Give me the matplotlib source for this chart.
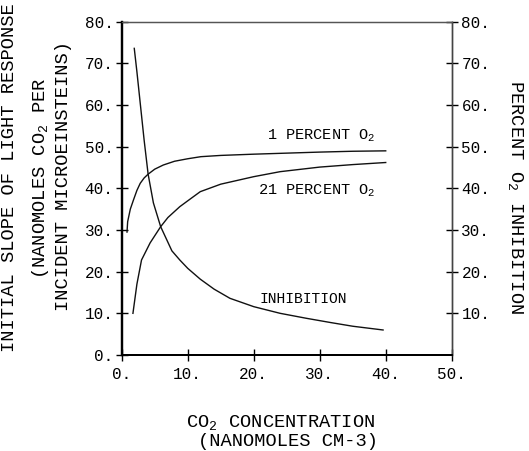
import matplotlib
matplotlib.use("Agg")
import matplotlib.pyplot as plt
import numpy as np

plt.rcParams['font.family'] = ['Liberation Mono', 'DejaVu Sans Mono']
plt.rcParams['mathtext.fontset'] = 'custom'
plt.rcParams['mathtext.rm'] = 'Liberation Mono'
plt.rcParams['mathtext.it'] = 'Liberation Mono'

# 1 percent O2 curve
x_one = [0.8, 0.9, 1.3, 1.8, 2.3, 2.8, 3.4, 4.0, 5.0, 6.3, 8.0, 10, 12, 15, 20, 24, 30, 35, 40]
y_one = [29.5, 32.0, 35.0, 37.3, 39.5, 41.2, 42.5, 43.4, 44.6, 45.6, 46.5, 47.1, 47.6, 47.9, 48.2, 48.4, 48.7, 48.9, 49.0]

# 21 percent O2 curve
x_21 = [1.7, 2.3, 3.0, 4.3, 5.9, 7.0, 8.8, 10, 11.9, 15, 20, 24, 30, 35, 40]
y_21 = [10.0, 17.0, 22.8, 26.9, 30.8, 33.0, 35.6, 37.0, 39.2, 41.0, 42.8, 44.0, 45.1, 45.7, 46.2]

# inhibition curve (right axis)
x_inh = [1.9, 2.3, 2.8, 3.4, 4.0, 4.8, 5.9, 7.6, 8.8, 10, 11.9, 14, 16.4, 20, 24, 28, 31.6, 35, 39.6]
y_inh = [73.6, 68.0, 60.5, 51.5, 43.4, 36.5, 30.8, 25.0, 22.8, 20.8, 18.2, 15.8, 13.6, 11.6, 10.0, 8.8, 7.8, 6.9, 6.0]

xticks = [0, 10, 20, 30, 40, 50]
yticks = [0, 10, 20, 30, 40, 50, 60, 70, 80]
rticks = [10, 20, 30, 40, 50, 60, 70, 80]

fig = plt.figure(figsize=(5.29, 4.51), dpi=100)
ax = fig.add_axes([0.2301, 0.2129, 0.6238, 0.7390])

ax.plot(x_one, y_one, color='#111111', lw=1.0)
ax.plot(x_21, y_21, color='#111111', lw=1.0)
ax.set_xlim(0, 50)
ax.set_ylim(0, 80)
ax.set_xticks(xticks)
ax.set_xticklabels([f"{t}." for t in xticks])
ax.set_yticks(yticks)
ax.set_yticklabels([f"{t}." for t in yticks])
ax.tick_params(direction='inout', length=8, width=1, labelsize=11.5, pad=2)
ax.tick_params(axis='x', pad=5)

ax2 = ax.twinx()
ax2.plot(x_inh, y_inh, color='#111111', lw=1.0)
ax2.set_ylim(0, 80)
ax2.set_yticks(rticks)
ax2.set_yticklabels([f"{t}." for t in rticks])
ax2.tick_params(direction='inout', length=8, width=1, labelsize=11.5, pad=3)

for a in (ax, ax2):
    a.spines['left'].set_linewidth(1.6)
    a.spines['bottom'].set_linewidth(1.4)
    a.spines['top'].set_linewidth(0.9)
    a.spines['top'].set_color('#555555')
    a.spines['right'].set_linewidth(1.0)
    a.spines['right'].set_color('#444444')

ax.text(22.0, 51.6, "1 PERCENT O$_2$", fontsize=11, va='baseline')
ax.text(20.7, 38.4, "21 PERCENT O$_2$", fontsize=11, va='baseline')
ax.text(20.95, 12.4, "INHIBITION", fontsize=10.5, va='baseline')

# axis titles
fig.text(281 / 529, 1 - 423 / 451, "CO$_2$ CONCENTRATION", fontsize=13.5, ha='center', va='center')
fig.text(288 / 529, 1 - 441 / 451, "(NANOMOLES CM-3)", fontsize=13.5, ha='center', va='center')

fig.text(10 / 529, 1 - 178 / 451, "INITIAL SLOPE OF LIGHT RESPONSE", fontsize=13.5,
         rotation=90, ha='center', va='center')
fig.text(41 / 529, 1 - 178 / 451, "(NANOMOLES CO$_2$ PER", fontsize=13.5,
         rotation=90, ha='center', va='center')
fig.text(64 / 529, 1 - 176 / 451, "INCIDENT MICROEINSTEINS)", fontsize=13.5,
         rotation=90, ha='center', va='center')

fig.text(516 / 529, 1 - 197 / 451, "PERCENT O$_2$ INHIBITION", fontsize=13.5,
         rotation=-90, ha='center', va='center')

fig.savefig("out.png", dpi=100)
